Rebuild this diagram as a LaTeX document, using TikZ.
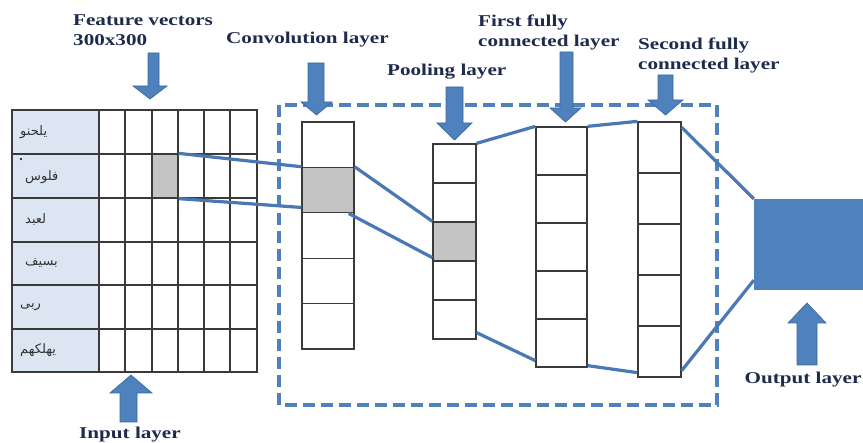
\documentclass[tikz,border=0pt]{standalone}
\usepackage{fontspec}
\setmainfont{Liberation Serif}[FakeStretch=1.28]
\newfontfamily\arabicfont[Script=Arabic]{DejaVu Sans}
\TeXXeTstate=1
\usetikzlibrary{calc}
\definecolor{navy}{HTML}{1E2B4D}
\definecolor{arrblue}{HTML}{4F81BD}
\definecolor{arredge}{HTML}{3B6AA3}
\definecolor{linkblue}{HTML}{4A78B5}
\definecolor{labfill}{HTML}{DCE6F2}
\definecolor{gridc}{HTML}{3A3A3A}
\definecolor{cellgray}{HTML}{C4C4C4}
\newcommand{\blockarrow}[7]{\filldraw[bigarrow] (#1,#5)--(#2,#5)--(#2,#6)--(#4,#6)--({(#3+#4)/2},#7)--(#3,#6)--(#1,#6)--cycle;}
\begin{document}
\begin{tikzpicture}[x=1pt,y=-1pt,
  layer/.style={font=\bfseries\fontsize{16.5}{20}\selectfont, text=navy, inner sep=0pt, align=left},
  arlab/.style={font=\arabicfont\fontsize{13}{15}\selectfont, text=black!80, inner sep=0pt, anchor=west},
  cell/.style={draw=gridc, line width=1.3pt, inner sep=0pt},
  link/.style={draw=linkblue, line width=3.2pt},
  bigarrow/.style={fill=arrblue, draw=arredge, line width=0.7pt},
  dashbox/.style={draw=arrblue, line width=3.6pt, dash pattern=on 12pt off 6pt}]
\useasboundingbox[fill=white] (0,0) rectangle (863,443);

% dashed frame
\draw[dashbox] (279,105) rectangle (717,405);

% input grid
\fill[labfill] (12,110) rectangle (99,372);
\begin{scope}[gridc, line width=1.3pt]
\draw (12,110) rectangle (257,372);
\foreach \xx in {99,125,152,178,204,230} \draw (\xx,110) -- (\xx,372);
\foreach \yy in {154,198,242,285,329} \draw (12,\yy) -- (257,\yy);
\end{scope}
\node[cell, fill=cellgray, minimum width=26pt, minimum height=44pt] (g) at (165,176) {};

% arabic row labels
\node[arlab] (l1) at (20,132) {\beginR يلحنو\endR};
\node[arlab] (l2) at (25,177) {\beginR فلوس\endR};
\node[arlab] (l3) at (25,220) {\beginR لعبد\endR};
\node[arlab] (l4) at (25,263) {\beginR بسيف\endR};
\node[arlab] (l5) at (20,307) {\beginR ربى\endR};
\node[arlab] (l6) at (20,350) {\beginR يهلكهم\endR};
\fill[black] (21,159) circle (1.2);

% convolution column
\foreach \i/\yy/\cc in {1/144.7/white,2/190.1/cellgray,3/235.5/white,4/280.9/white,5/326.3/white}
  \node[cell, fill=\cc, minimum width=52pt, minimum height=45.4pt] (c\i) at (328,\yy) {};
% pooling column
\foreach \i/\yy/\cc in {1/163.5/white,2/202.5/white,3/241.5/cellgray,4/280.5/white,5/319.5/white}
  \node[cell, fill=\cc, minimum width=43pt, minimum height=39pt] (p\i) at (454.5,\yy) {};
% first fully connected
\foreach \i/\yy in {1/151,2/199,3/247,4/295,5/343}
  \node[cell, fill=white, minimum width=51pt, minimum height=48pt] (f\i) at (561.5,\yy) {};
% second fully connected
\foreach \i/\yy in {1/147.5,2/198.5,3/249.5,4/300.5,5/351.5}
  \node[cell, fill=white, minimum width=43pt, minimum height=51pt] (s\i) at (659.5,\yy) {};
% output
\node[fill=arrblue, inner sep=0pt, minimum width=112pt, minimum height=91pt] (out) at (810,244.5) {};

% connectors
\draw[link] (g.north east) -- (c2.north west);
\draw[link] (g.south east) -- ($(c2.south west)+(0,-6)$);
\draw[link] (c2.north east) -- (p3.north west);
\draw[link] ($(c2.south east)+(-6,0)$) -- ($(p3.south west)+(0,-4)$);
\draw[link] (p1.north east) -- (f1.north west);
\draw[link] ($(p5.south east)+(0,-7)$) -- ($(f5.south west)+(0,-7)$);
\draw[link] (f1.north east) -- (s1.north west);
\draw[link] ($(f5.south east)+(0,-2)$) -- ($(s5.south west)+(0,-5)$);
\draw[link] ($(s1.north east)+(0,6)$) -- (out.north west);
\draw[link] ($(s5.south east)+(0,-7)$) -- ($(out.south west)+(0,-10)$);

% block arrows
\blockarrow{148}{159}{133}{167}{53}{86}{99}
\blockarrow{308}{324}{301}{332}{63}{102}{115}
\blockarrow{446}{463}{437}{472}{87}{123}{140}
\blockarrow{560}{573}{550}{581}{52}{108}{122}
\blockarrow{658}{673}{648}{683}{75}{100}{115}
\blockarrow{797}{817}{788}{826}{365}{323}{303}
\blockarrow{120}{137}{110}{152}{422}{393}{375}

% labels
\node[layer, anchor=west] (tfeat) at (73,30) {Feature vectors\\300x300};
\node[layer, anchor=west] (tconv) at (226,40) {Convolution layer};
\node[layer, anchor=west] (tpool) at (387,72) {Pooling layer};
\node[layer, anchor=west] (tfc1) at (478,32) {First fully\\connected layer};
\node[layer, anchor=west] (tfc2) at (638,55) {Second fully\\connected layer};
\node[layer] (tout) at (803,380) {Output layer};
\node[layer] (tin) at (130,435) {Input layer};
\end{tikzpicture}
\end{document}
